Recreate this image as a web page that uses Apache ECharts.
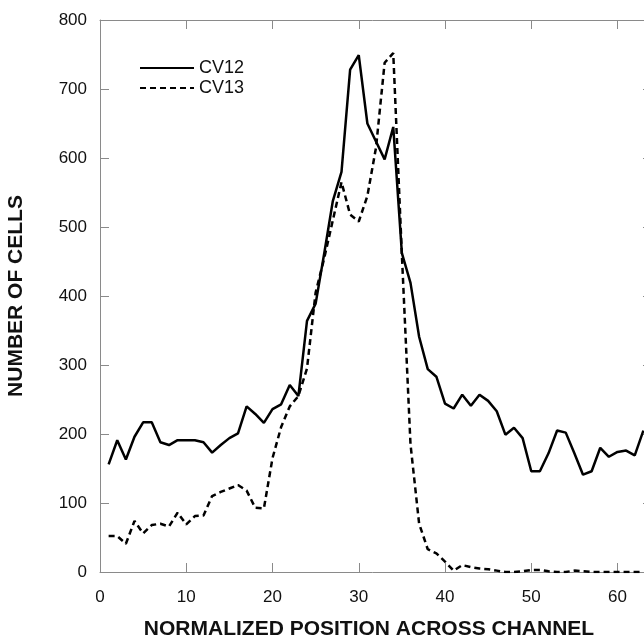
<!DOCTYPE html>
<html>
<head>
<meta charset="utf-8">
<script src="https://cdn.jsdelivr.net/npm/echarts@6/dist/echarts.min.js"></script>
<style>html,body{margin:0;padding:0;background:#fff;}#c{width:644px;height:637px;}</style>
</head>
<body>
<div id="c"></div>
<script>
const positions = [1,2,3,4,5,6,7,8,9,10,11,12,13,14,15,16,17,18,19,20,21,22,23,24,25,26,27,28,29,30,31,32,33,34,35,36,37,38,39,40,41,42,43,44,45,46,47,48,49,50,51,52,53,54,55,56,57,58,59,60,61,62,63];
const cv12 = [156,191,163,196,217,217,188,184,191,191,191,188,173,184,194,201,240,229,216,236,243,271,255,364,389,462,538,580,728,749,650,624,598,645,462,419,341,294,283,244,237,257,241,257,248,233,199,209,194,146,146,172,205,202,172,141,146,180,167,174,176,169,205];
const cv13 = [52,52,41,74,56,68,70,66,86,69,81,82,110,116,121,126,118,93,92,165,210,240,255,295,405,455,510,565,518,508,545,615,738,752,460,185,70,33,27,15,2,10,7,5,4,2,0,0,1,3,3,1,0,0,2,1,0,0,0,0,0,0,0];
const seriesNames = ['CV12','CV13'];
const xTitle = 'NORMALIZED POSITION ACROSS CHANNEL';
const yTitle = 'NUMBER OF CELLS';

const pair = (ys) => positions.map((x, i) => [x, ys[i]]);
const axisGray = '#8a8a8a';
const font = 'Liberation Sans, Arial, sans-serif';

const chart = echarts.init(document.getElementById('c'), null, {renderer: 'canvas'});
const baseX = {
  type: 'value', min: 0, max: 64, interval: 10,
  axisLine: {show: true, onZero: false, lineStyle: {color: axisGray, width: 1}},
  axisTick: {show: true, inside: true, length: 9, lineStyle: {color: axisGray}},
  splitLine: {show: false}
};
const baseY = {
  type: 'value', min: 0, max: 800, interval: 100,
  axisLine: {show: true, onZero: false, lineStyle: {color: axisGray, width: 1}},
  axisTick: {show: true, inside: true, length: 9, lineStyle: {color: axisGray}},
  splitLine: {show: false}
};
chart.setOption({
  animation: false,
  backgroundColor: '#fff',
  grid: {left: 100, top: 20, width: 552, bottom: 65, outerBoundsMode: 'none', containLabel: false},
  legend: {
    data: seriesNames, orient: 'vertical', left: 139, top: 59, padding: 0,
    itemWidth: 54, itemHeight: 14, itemGap: 2,
    itemStyle: {opacity: 0},
    textStyle: {fontFamily: font, fontSize: 18, color: '#111'}
  },
  xAxis: [
    Object.assign({}, baseX, {
      position: 'bottom',
      axisLabel: {show: true, fontFamily: font, fontSize: 17, color: '#111', margin: 17, showMaxLabel: false},
      name: xTitle, nameLocation: 'middle', nameGap: 47,
      nameTextStyle: {fontFamily: font, fontSize: 21, fontWeight: 'bold', color: '#111', padding: [0, 14, 0, 0]}
    }),
    Object.assign({}, baseX, {position: 'top', axisLabel: {show: false}})
  ],
  yAxis: [
    Object.assign({}, baseY, {
      position: 'left',
      axisLabel: {show: true, fontFamily: font, fontSize: 17, color: '#111', margin: 13},
      name: yTitle, nameLocation: 'middle', nameGap: 73, nameRotate: 90,
      nameTextStyle: {fontFamily: font, fontSize: 21, fontWeight: 'bold', color: '#111'}
    }),
    Object.assign({}, baseY, {position: 'right', axisLabel: {show: false}})
  ],
  series: [
    {name: seriesNames[0], type: 'line', data: pair(cv12), showSymbol: false, symbol: 'none',
     lineStyle: {color: '#000', width: 2.5, type: 'solid'}, itemStyle: {color: '#000'}},
    {name: seriesNames[1], type: 'line', data: pair(cv13), showSymbol: false, symbol: 'none',
     lineStyle: {color: '#000', width: 2.5, type: [6, 4]}, itemStyle: {color: '#000'}}
  ]
});
</script>
</body>
</html>
